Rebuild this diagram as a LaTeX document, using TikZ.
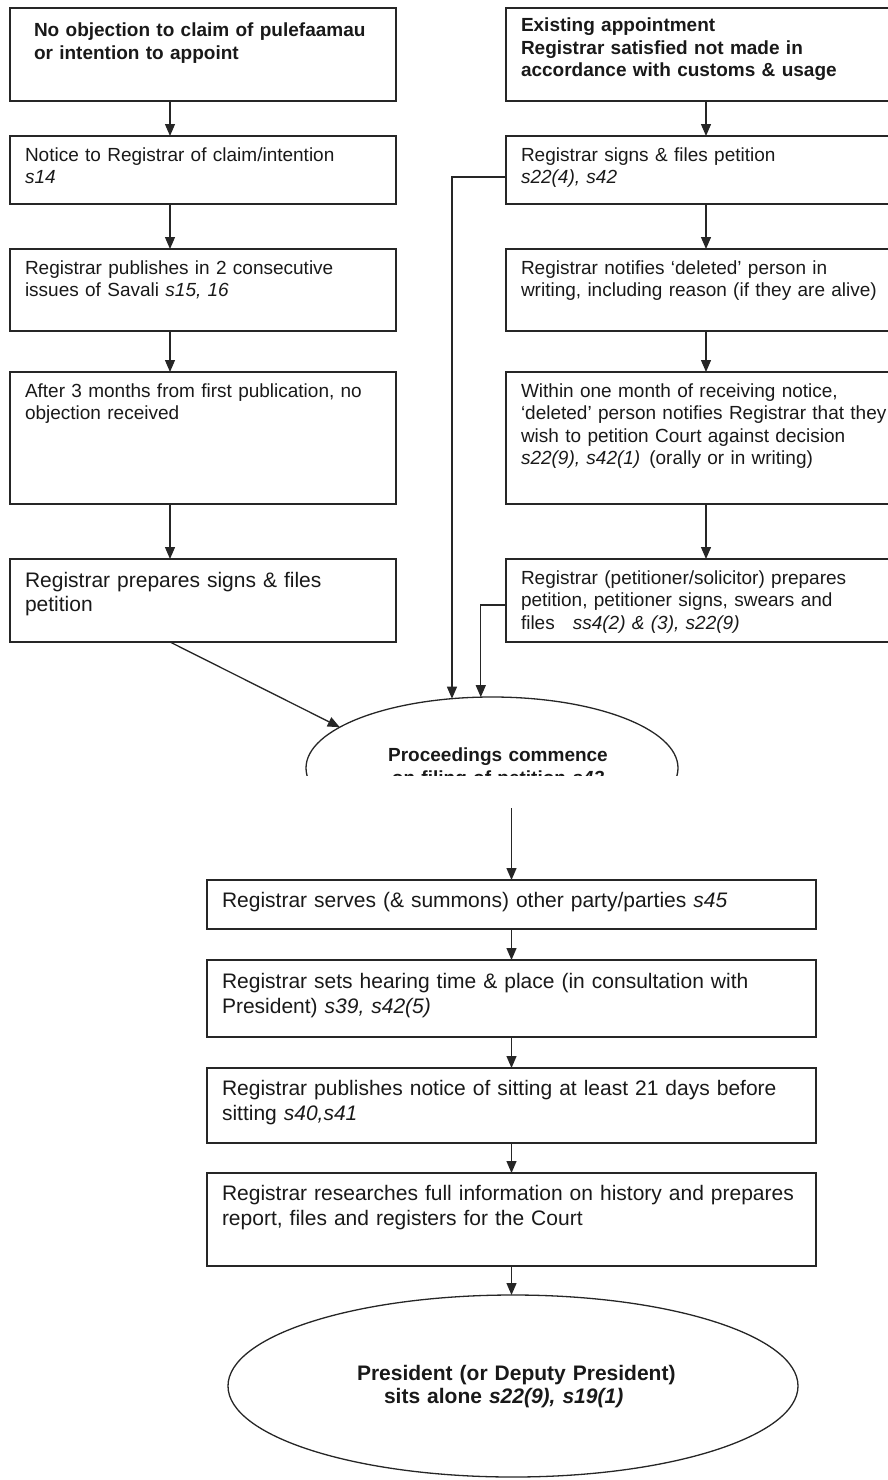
\documentclass[tikz,border=0pt]{standalone}
\usepackage{fontspec}
\setmainfont{Liberation Sans}
\usetikzlibrary{arrows.meta,shapes.geometric}
\begin{document}
\begin{tikzpicture}[x=1pt,y=-1pt,
  line width=1.3pt,
  ink/.style={draw=black!85},
  box/.style={ink, rectangle, anchor=north west, inner sep=0pt, outer sep=0pt},
  flow/.style={ink, -{Triangle[width=10pt,length=12pt]}},
  txt/.style={anchor=base west, inner sep=0pt, outer sep=0pt, align=left, text width=#1, text=black!90},
  txt/.default=360pt,
  smalltxt/.style={txt=#1, font=\fontsize{19}{22.5}\selectfont},
  smalltxt/.default=360pt,
  headtxt/.style={txt=#1, font=\fontsize{19}{22.5}\selectfont\bfseries},
  headtxt/.default=360pt,
  bigtxt/.style={txt=#1, font=\fontsize{21}{24}\selectfont},
  bigtxt/.default=360pt,
  lowtxt/.style={txt=#1, font=\fontsize{21}{25}\selectfont},
  lowtxt/.default=580pt,
  oval/.style={ink, ellipse, inner sep=0pt, outer sep=0pt}
]
\useasboundingbox (0,0) rectangle (888,1480);
\clip (0,0) rectangle (888,1480);

% column guides for the vertical connectors
\coordinate (colL) at (170,0);
\coordinate (colR) at (706,0);

% ---- left column: claim / intention to appoint ----
\node[box, minimum width=386pt, minimum height=93pt]  (l1) at (10,8) {};
\node[box, minimum width=386pt, minimum height=68pt]  (l2) at (10,136) {};
\node[box, minimum width=386pt, minimum height=82pt]  (l3) at (10,249) {};
\node[box, minimum width=386pt, minimum height=132pt] (l4) at (10,372) {};
\node[box, minimum width=386pt, minimum height=83pt]  (l5) at (10,559) {};

\node[headtxt] (l1t) at (34,37) {No objection to claim of pulefaamau\\or intention to appoint};
\node[smalltxt] (l2t) at (25,161) {Notice to Registrar of claim/intention\\\textit{s14}};
\node[smalltxt] (l3t) at (25,274) {Registrar publishes in 2 consecutive\\issues of Savali \textit{s15, 16}};
\node[smalltxt] (l4t) at (25,397) {After 3 months from first publication, no\\objection received};
\node[bigtxt] (l5t) at (25,587) {Registrar prepares signs \& files\\petition};

% ---- right column: existing appointment ----
\node[box, minimum width=400pt, minimum height=93pt]  (r1) at (506,8) {};
\node[box, minimum width=400pt, minimum height=68pt]  (r2) at (506,136) {};
\node[box, minimum width=400pt, minimum height=82pt]  (r3) at (506,249) {};
\node[box, minimum width=400pt, minimum height=132pt] (r4) at (506,372) {};
\node[box, minimum width=400pt, minimum height=83pt]  (r5) at (506,559) {};

\node[headtxt=420pt] (r1t) at (521,32) {Existing appointment\\Registrar satisfied not made in\\accordance with customs \& usage};
\node[smalltxt=420pt] (r2t) at (521,161) {Registrar signs \& files petition\\\textit{s22(4), s42}};
\node[smalltxt=420pt] (r3t) at (521,274) {Registrar notifies ‘deleted’ person in\\writing, including reason (if they are alive)};
\node[smalltxt=420pt] (r4t) at (521,397) {Within one month of receiving notice,\\‘deleted’ person notifies Registrar that they\\wish to petition Court against decision\\\textit{s22(9), s42(1)}\hspace{9pt}(orally or in writing)};
\node[smalltxt=420pt] (r5t) at (521,584) {Registrar (petitioner/solicitor) prepares\\petition, petitioner signs, swears and\\files\hspace{18pt}\textit{ss4(2) \& (3), s22(9)}};

% ---- proceedings commence (cut off at the page break) ----
\begin{scope}
  \clip (0,0) rectangle (888,775);
  \node[oval, minimum width=372pt, minimum height=142pt] (pe) at (492,768) {};
  \node[anchor=base, inner sep=0pt, align=center, text width=300pt,
        font=\fontsize{19}{23}\selectfont\bfseries, text=black!90]
    (pet) at (498,761) {Proceedings commence\\on filing of petition \textit{s43}};
\end{scope}

% ---- connectors, upper part ----
\draw[flow] (l1.south -| colL) -- (l2.north -| colL);
\draw[flow] (l2.south -| colL) -- (l3.north -| colL);
\draw[flow] (l3.south -| colL) -- (l4.north -| colL);
\draw[flow] (l4.south -| colL) -- (l5.north -| colL);
\draw[flow] (l5.south -| colL) -- (pe.165);

\draw[flow] (r1.south -| colR) -- (r2.north -| colR);
\draw[flow] (r2.south -| colR) -- (r3.north -| colR);
\draw[flow] (r3.south -| colR) -- (r4.north -| colR);
\draw[flow] (r4.south -| colR) -- (r5.north -| colR);

\draw[flow] ([yshift=-7pt]r2.west) -| (pe.120.6);
\draw[flow] ([yshift=-4.5pt]r5.west) -| (pe.99.6);

% ---- lower part ----
\node[box, minimum width=609pt, minimum height=49pt] (b1) at (207,880) {};
\node[box, minimum width=609pt, minimum height=77pt] (b2) at (207,960) {};
\node[box, minimum width=609pt, minimum height=75pt] (b3) at (207,1068) {};
\node[box, minimum width=609pt, minimum height=93pt] (b4) at (207,1173) {};
\node[oval, minimum width=570pt, minimum height=182pt] (pp) at (513,1386) {};

\node[lowtxt] (b1t) at (222,907) {Registrar serves (\& summons) other party/parties \textit{s45}};
\node[lowtxt] (b2t) at (222,988) {Registrar sets hearing time \& place (in consultation with\\President) \textit{s39, s42(5)}};
\node[lowtxt] (b3t) at (222,1095) {Registrar publishes notice of sitting at least 21 days before\\sitting \textit{s40,s41}};
\node[lowtxt] (b4t) at (222,1200) {Registrar researches full information on history and prepares\\report, files and registers for the Court};
\node[lowtxt=330pt, font=\fontsize{21}{23}\selectfont\bfseries] (ppt) at (357,1380)
  {President (or Deputy President)\\\hspace*{27pt}sits alone \textit{s22(9), s19(1)}};

\path (b1.north) ++(0,-72) coordinate (resume);
\draw[flow] (resume) -- (b1.north);
\draw[flow] (b1.south) -- (b2.north);
\draw[flow] (b2.south) -- (b3.north);
\draw[flow] (b3.south) -- (b4.north);
\draw[flow] (b4.south) -- (pp.north -| b4.south);
\end{tikzpicture}
\end{document}
